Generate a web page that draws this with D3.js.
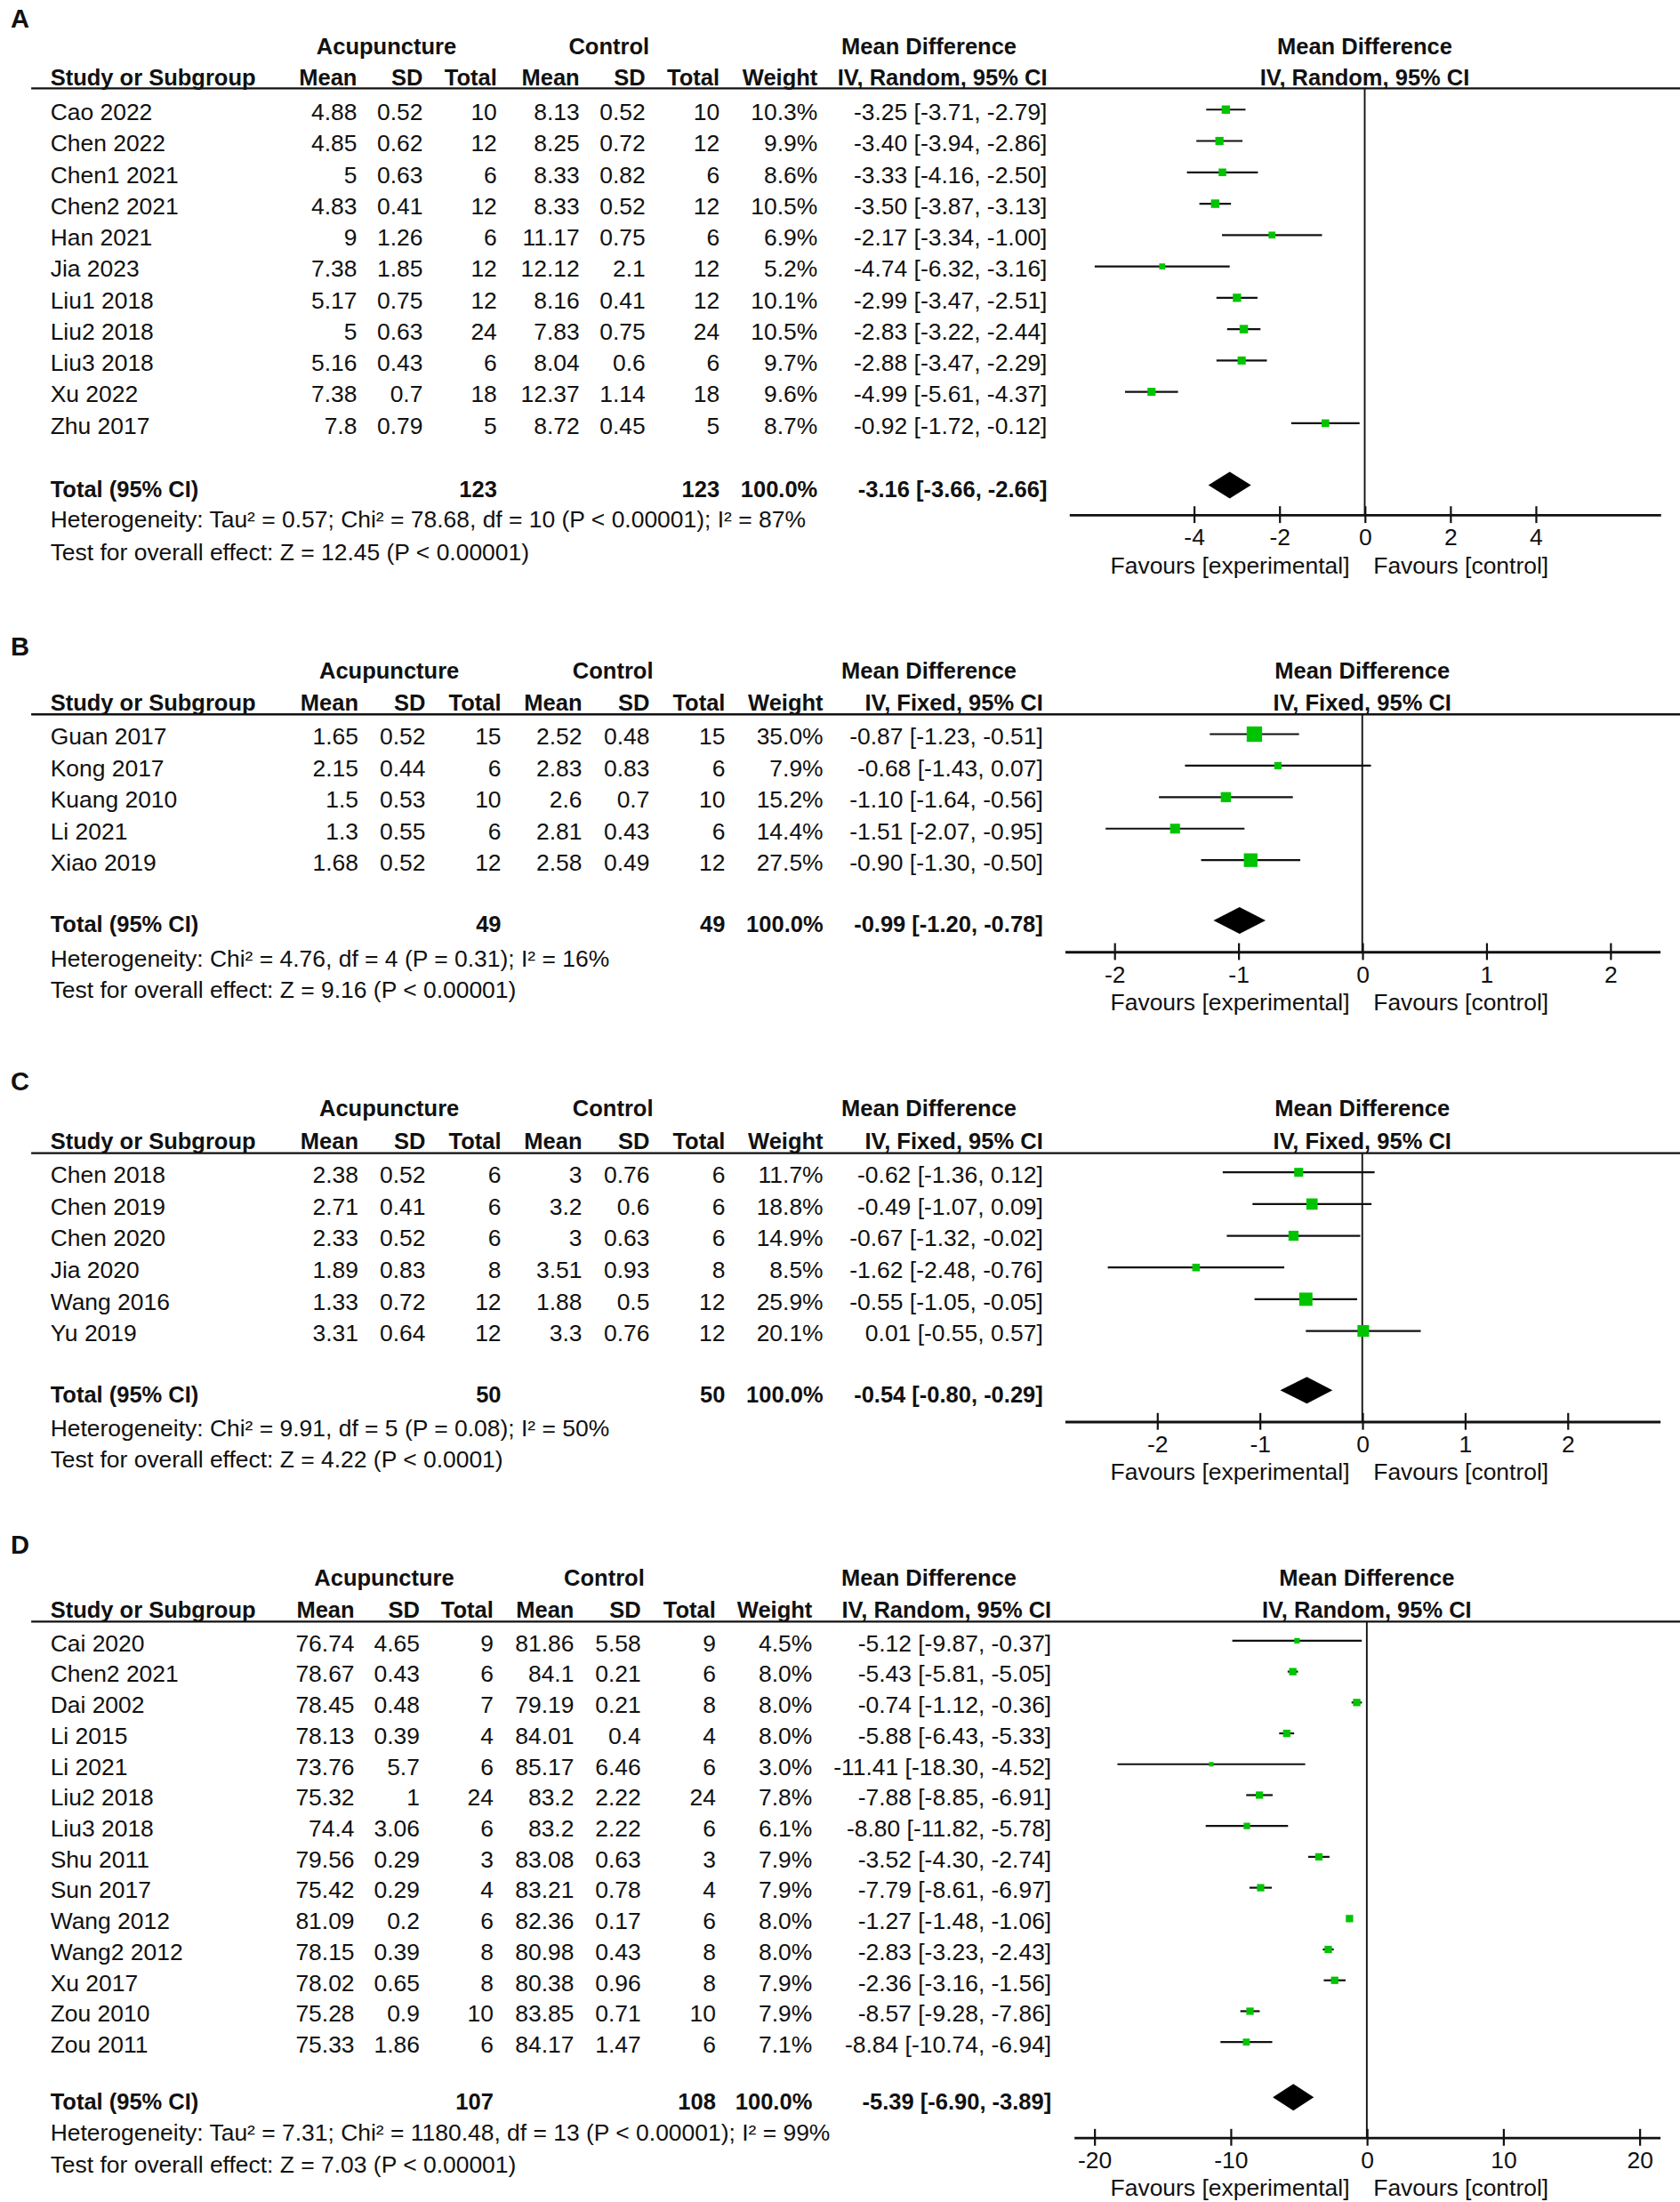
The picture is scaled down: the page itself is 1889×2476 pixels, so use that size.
<!DOCTYPE html>
<html>
<head>
<meta charset="utf-8">
<script src="https://cdn.jsdelivr.net/npm/d3@7"></script>
<style>
body { margin: 0; background: #fff; }
svg text { font-family: "Liberation Sans", Arial, sans-serif; fill: #111; }
</style>
</head>
<body>
<div id="chart"></div>
<script>
// ---- panel A : IV, Random ----
var studiesA = ["Cao 2022", "Chen 2022", "Chen1 2021", "Chen2 2021", "Han 2021", "Jia 2023", "Liu1 2018", "Liu2 2018", "Liu3 2018", "Xu 2022", "Zhu 2017"];
var acuMeanA = [4.88, 4.85, 5, 4.83, 9, 7.38, 5.17, 5, 5.16, 7.38, 7.8];
var acuSdA = [0.52, 0.62, 0.63, 0.41, 1.26, 1.85, 0.75, 0.63, 0.43, 0.7, 0.79];
var acuNA = [10, 12, 6, 12, 6, 12, 12, 24, 6, 18, 5];
var ctlMeanA = [8.13, 8.25, 8.33, 8.33, 11.17, 12.12, 8.16, 7.83, 8.04, 12.37, 8.72];
var ctlSdA = [0.52, 0.72, 0.82, 0.52, 0.75, 2.1, 0.41, 0.75, 0.6, 1.14, 0.45];
var ctlNA = [10, 12, 6, 12, 6, 12, 12, 24, 6, 18, 5];
var weightA = [10.3, 9.9, 8.6, 10.5, 6.9, 5.2, 10.1, 10.5, 9.7, 9.6, 8.7];
var mdA = [-3.25, -3.40, -3.33, -3.50, -2.17, -4.74, -2.99, -2.83, -2.88, -4.99, -0.92];
var loA = [-3.71, -3.94, -4.16, -3.87, -3.34, -6.32, -3.47, -3.22, -3.47, -5.61, -1.72];
var hiA = [-2.79, -2.86, -2.50, -3.13, -1.00, -3.16, -2.51, -2.44, -2.29, -4.37, -0.12];
var pooledA = [-3.16, -3.66, -2.66];
var ticksA = [-4, -2, 0, 2, 4];
var hetA = "Heterogeneity: Tau\u00b2 = 0.57; Chi\u00b2 = 78.68, df = 10 (P < 0.00001); I\u00b2 = 87%";
var testA = "Test for overall effect: Z = 12.45 (P < 0.00001)";

// ---- panel B : IV, Fixed ----
var studiesB = ["Guan 2017", "Kong 2017", "Kuang 2010", "Li 2021", "Xiao 2019"];
var acuMeanB = [1.65, 2.15, 1.5, 1.3, 1.68];
var acuSdB = [0.52, 0.44, 0.53, 0.55, 0.52];
var acuNB = [15, 6, 10, 6, 12];
var ctlMeanB = [2.52, 2.83, 2.6, 2.81, 2.58];
var ctlSdB = [0.48, 0.83, 0.7, 0.43, 0.49];
var ctlNB = [15, 6, 10, 6, 12];
var weightB = [35.0, 7.9, 15.2, 14.4, 27.5];
var mdB = [-0.87, -0.68, -1.10, -1.51, -0.90];
var loB = [-1.23, -1.43, -1.64, -2.07, -1.30];
var hiB = [-0.51, 0.07, -0.56, -0.95, -0.50];
var pooledB = [-0.99, -1.20, -0.78];
var ticksB = [-2, -1, 0, 1, 2];
var hetB = "Heterogeneity: Chi\u00b2 = 4.76, df = 4 (P = 0.31); I\u00b2 = 16%";
var testB = "Test for overall effect: Z = 9.16 (P < 0.00001)";

// ---- panel C : IV, Fixed ----
var studiesC = ["Chen 2018", "Chen 2019", "Chen 2020", "Jia 2020", "Wang 2016", "Yu 2019"];
var acuMeanC = [2.38, 2.71, 2.33, 1.89, 1.33, 3.31];
var acuSdC = [0.52, 0.41, 0.52, 0.83, 0.72, 0.64];
var acuNC = [6, 6, 6, 8, 12, 12];
var ctlMeanC = [3, 3.2, 3, 3.51, 1.88, 3.3];
var ctlSdC = [0.76, 0.6, 0.63, 0.93, 0.5, 0.76];
var ctlNC = [6, 6, 6, 8, 12, 12];
var weightC = [11.7, 18.8, 14.9, 8.5, 25.9, 20.1];
var mdC = [-0.62, -0.49, -0.67, -1.62, -0.55, 0.01];
var loC = [-1.36, -1.07, -1.32, -2.48, -1.05, -0.55];
var hiC = [0.12, 0.09, -0.02, -0.76, -0.05, 0.57];
var pooledC = [-0.54, -0.80, -0.29];
var ticksC = [-2, -1, 0, 1, 2];
var hetC = "Heterogeneity: Chi\u00b2 = 9.91, df = 5 (P = 0.08); I\u00b2 = 50%";
var testC = "Test for overall effect: Z = 4.22 (P < 0.0001)";

// ---- panel D : IV, Random ----
var studiesD = ["Cai 2020", "Chen2 2021", "Dai 2002", "Li 2015", "Li 2021", "Liu2 2018", "Liu3 2018", "Shu 2011", "Sun 2017", "Wang 2012", "Wang2 2012", "Xu 2017", "Zou 2010", "Zou 2011"];
var acuMeanD = [76.74, 78.67, 78.45, 78.13, 73.76, 75.32, 74.4, 79.56, 75.42, 81.09, 78.15, 78.02, 75.28, 75.33];
var acuSdD = [4.65, 0.43, 0.48, 0.39, 5.7, 1, 3.06, 0.29, 0.29, 0.2, 0.39, 0.65, 0.9, 1.86];
var acuND = [9, 6, 7, 4, 6, 24, 6, 3, 4, 6, 8, 8, 10, 6];
var ctlMeanD = [81.86, 84.1, 79.19, 84.01, 85.17, 83.2, 83.2, 83.08, 83.21, 82.36, 80.98, 80.38, 83.85, 84.17];
var ctlSdD = [5.58, 0.21, 0.21, 0.4, 6.46, 2.22, 2.22, 0.63, 0.78, 0.17, 0.43, 0.96, 0.71, 1.47];
var ctlND = [9, 6, 8, 4, 6, 24, 6, 3, 4, 6, 8, 8, 10, 6];
var weightD = [4.5, 8.0, 8.0, 8.0, 3.0, 7.8, 6.1, 7.9, 7.9, 8.0, 8.0, 7.9, 7.9, 7.1];
var mdD = [-5.12, -5.43, -0.74, -5.88, -11.41, -7.88, -8.80, -3.52, -7.79, -1.27, -2.83, -2.36, -8.57, -8.84];
var loD = [-9.87, -5.81, -1.12, -6.43, -18.30, -8.85, -11.82, -4.30, -8.61, -1.48, -3.23, -3.16, -9.28, -10.74];
var hiD = [-0.37, -5.05, -0.36, -5.33, -4.52, -6.91, -5.78, -2.74, -6.97, -1.06, -2.43, -1.56, -7.86, -6.94];
var pooledD = [-5.39, -6.90, -3.89];
var ticksD = [-20, -10, 0, 10, 20];
var hetD = "Heterogeneity: Tau\u00b2 = 7.31; Chi\u00b2 = 1180.48, df = 13 (P < 0.00001); I\u00b2 = 99%";
var testD = "Test for overall effect: Z = 7.03 (P < 0.00001)";

// drawing is done in 1200-wide units, scaled up by the viewBox
var W = 1200, H = 2476 * 1200 / 1889;
var FS = 16.8, FSB = 16.2;

var svg = d3.select("#chart").append("svg")
    .attr("width", 1889)
    .attr("height", 2476)
    .attr("viewBox", `0 0 ${W} ${H}`);

svg.append("rect").attr("width", W).attr("height", H).attr("fill", "#fff");

// box size follows study weight
var boxSize = d3.scaleSqrt().domain([0, 35]).range([0, 11]);

var panels = [
    {label: "A", method: "Random", studies: studiesA, acuMean: acuMeanA, acuSd: acuSdA, acuN: acuNA,
     ctlMean: ctlMeanA, ctlSd: ctlSdA, ctlN: ctlNA, weight: weightA, md: mdA, lo: loA, hi: hiA,
     pooled: pooledA, ticks: ticksA, het: hetA, test: testA,
     L: {labelY: 20, h1: 38.7, h2: 60.8, rule: 63.1, row0: 85.8, step: 22.4, total: 355, het: 377, test: 400,
         axisY: 367.6, cols: [255, 302, 355, 414, 461, 514, 584, 748], acuHead: 276, ctlHead: 435,
         axis: [763.6, 1186], domain: [-6.92, 6.92]}},
    {label: "B", method: "Fixed", studies: studiesB, acuMean: acuMeanB, acuSd: acuSdB, acuN: acuNB,
     ctlMean: ctlMeanB, ctlSd: ctlSdB, ctlN: ctlNB, weight: weightB, md: mdB, lo: loB, hi: hiB,
     pooled: pooledB, ticks: ticksB, het: hetB, test: testB,
     L: {labelY: 468, h1: 484.9, h2: 507.6, rule: 510.3, row0: 531.9, step: 22.5, total: 666, het: 690.3, test: 712.6,
         axisY: 679.7, cols: [256, 304, 358, 415.8, 464, 518, 588, 745], acuHead: 278, ctlHead: 437.8,
         axis: [760.5, 1185.6], domain: [-2.4, 2.4]}},
    {label: "C", method: "Fixed", studies: studiesC, acuMean: acuMeanC, acuSd: acuSdC, acuN: acuNC,
     ctlMean: ctlMeanC, ctlSd: ctlSdC, ctlN: ctlNC, weight: weightC, md: mdC, lo: loC, hi: hiC,
     pooled: pooledC, ticks: ticksC, het: hetC, test: testC,
     L: {labelY: 779, h1: 797.2, h2: 820.5, rule: 823.7, row0: 844.9, step: 22.66, total: 1001.6, het: 1026, test: 1048,
         axisY: 1015.3, cols: [256, 304, 358, 415.8, 464, 518, 588, 745], acuHead: 278, ctlHead: 437.8,
         axis: [760.5, 1185.6], domain: [-2.9, 2.9]}},
    {label: "D", method: "Random", studies: studiesD, acuMean: acuMeanD, acuSd: acuSdD, acuN: acuND,
     ctlMean: ctlMeanD, ctlSd: ctlSdD, ctlN: ctlND, weight: weightD, md: mdD, lo: loD, hi: hiD,
     pooled: pooledD, ticks: ticksD, het: hetD, test: testD,
     L: {labelY: 1110, h1: 1132.8, h2: 1155.5, rule: 1158.3, row0: 1179.5, step: 22.05, total: 1506.6, het: 1528.8, test: 1552,
         axisY: 1526.7, cols: [253.2, 299.8, 352.5, 410, 457.8, 511.3, 580.2, 751], acuHead: 274.4, ctlHead: 431.6,
         axis: [767, 1185.6], domain: [-21.5, 21.5]}}
];

function txt(g, x, y, s, anchor, bold) {
    return g.append("text")
        .attr("x", x)
        .attr("y", y)
        .attr("text-anchor", anchor || "start")
        .attr("font-size", bold ? FSB : FS)
        .attr("font-weight", bold ? "bold" : "normal")
        .text(s);
}

function ci(m, l, h) {
    return `${m.toFixed(2)} [${l.toFixed(2)}, ${h.toFixed(2)}]`;
}

panels.forEach(function(p) {
    var L = p.L;
    var c = L.cols;
    var g = svg.append("g");
    var rowY = i => L.row0 + i * L.step;

    var x = d3.scaleLinear().domain(L.domain).range(L.axis);
    var mid = (L.axis[0] + L.axis[1]) / 2;

    // panel letter
    g.append("text")
        .attr("x", 7.7)
        .attr("y", L.labelY)
        .attr("font-size", 18.5)
        .attr("font-weight", "bold")
        .text(p.label);

    // header rows
    txt(g, L.acuHead, L.h1, "Acupuncture", "middle", true);
    txt(g, L.ctlHead, L.h1, "Control", "middle", true);
    txt(g, 601, L.h1, "Mean Difference", "start", true);
    txt(g, mid, L.h1, "Mean Difference", "middle", true);

    var sub = `IV, ${p.method}, 95% CI`;
    txt(g, 36, L.h2, "Study or Subgroup", "start", true);
    ["Mean", "SD", "Total", "Mean", "SD", "Total", "Weight", sub].forEach(function(h, i) {
        txt(g, c[i], L.h2, h, "end", true);
    });
    txt(g, mid, L.h2, sub, "middle", true);

    g.append("line")
        .attr("x1", 22.3).attr("x2", W)
        .attr("y1", L.rule).attr("y2", L.rule)
        .attr("stroke", "#111").attr("stroke-width", 1.5);

    // study rows
    p.studies.forEach(function(s, i) {
        var y = rowY(i);
        txt(g, 36, y, s);
        txt(g, c[0], y, String(p.acuMean[i]), "end");
        txt(g, c[1], y, String(p.acuSd[i]), "end");
        txt(g, c[2], y, String(p.acuN[i]), "end");
        txt(g, c[3], y, String(p.ctlMean[i]), "end");
        txt(g, c[4], y, String(p.ctlSd[i]), "end");
        txt(g, c[5], y, String(p.ctlN[i]), "end");
        txt(g, c[6], y, p.weight[i].toFixed(1) + "%", "end");
        txt(g, c[7], y, ci(p.md[i], p.lo[i], p.hi[i]), "end");
    });

    // total row
    txt(g, 36, L.total, "Total (95% CI)", "start", true);
    txt(g, c[2], L.total, String(d3.sum(p.acuN)), "end", true);
    txt(g, c[5], L.total, String(d3.sum(p.ctlN)), "end", true);
    txt(g, c[6], L.total, "100.0%", "end", true);
    txt(g, c[7], L.total, ci(p.pooled[0], p.pooled[1], p.pooled[2]), "end", true);
    txt(g, 36, L.het, p.het);
    txt(g, 36, L.test, p.test);

    // zero line
    g.append("line")
        .attr("x1", x(0)).attr("x2", x(0))
        .attr("y1", L.rule).attr("y2", L.axisY)
        .attr("stroke", "#111").attr("stroke-width", 1.2);

    // confidence intervals
    g.selectAll(".ci")
        .data(p.studies)
        .enter()
        .append("line")
        .attr("x1", (d, i) => x(p.lo[i]))
        .attr("x2", (d, i) => x(p.hi[i]))
        .attr("y1", (d, i) => rowY(i) - 7.5)
        .attr("y2", (d, i) => rowY(i) - 7.5)
        .attr("stroke", "#111")
        .attr("stroke-width", 1.4);

    // study boxes
    g.selectAll(".box")
        .data(p.studies)
        .enter()
        .append("rect")
        .attr("x", (d, i) => x(p.md[i]) - boxSize(p.weight[i]) / 2)
        .attr("y", (d, i) => rowY(i) - 7.5 - boxSize(p.weight[i]) / 2)
        .attr("width", (d, i) => boxSize(p.weight[i]))
        .attr("height", (d, i) => boxSize(p.weight[i]))
        .attr("fill", "#00c400");

    // pooled diamond
    var dy = L.total - 8.5, hh = 9.5;
    g.append("path")
        .attr("d", `M${x(p.pooled[1])},${dy} L${x(p.pooled[0])},${dy - hh} L${x(p.pooled[2])},${dy} L${x(p.pooled[0])},${dy + hh} Z`)
        .attr("fill", "#000");

    // axis
    var axis = d3.axisBottom(x)
        .tickValues(p.ticks)
        .tickFormat(d3.format("d"))
        .tickSizeInner(6)
        .tickSizeOuter(0);

    var ag = g.append("g")
        .attr("transform", `translate(0, ${L.axisY})`)
        .call(axis);
    ag.select(".domain").attr("stroke", "#111").attr("stroke-width", 1.8);
    ag.selectAll(".tick line").attr("y1", -6).attr("y2", 6).attr("stroke", "#111").attr("stroke-width", 1.4);
    ag.selectAll(".tick text")
        .attr("y", 22)
        .attr("dy", null)
        .attr("font-size", FS)
        .attr("font-family", "'Liberation Sans', Arial, sans-serif")
        .text(d => d < 0 ? "-" + Math.abs(d) : String(d));

    txt(g, 964, L.axisY + 42, "Favours [experimental]", "end");
    txt(g, 981, L.axisY + 42, "Favours [control]", "start");
});
</script>
</body>
</html>
